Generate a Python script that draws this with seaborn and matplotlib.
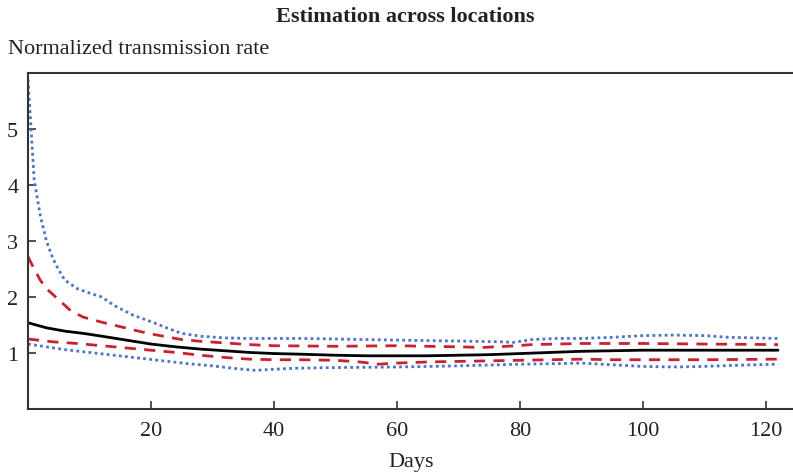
import matplotlib
matplotlib.use("Agg")
import matplotlib.pyplot as plt
import seaborn as sns
import pandas as pd

# ---- data ----
blue_up_days = [0, 0.5, 1, 2, 3, 4, 5, 6, 8, 10, 12, 14, 17, 20, 23, 25, 28, 32, 36, 40, 44, 50, 55, 60, 66,
                72, 77, 79, 82, 86, 90, 95, 100, 105, 110, 114, 118, 122]
blue_up_vals = [5.88, 5.0, 4.1, 3.45, 3.0, 2.7, 2.48, 2.3, 2.15, 2.07, 2.0, 1.85, 1.68, 1.56, 1.43, 1.35, 1.30,
                1.27, 1.26, 1.26, 1.26, 1.25, 1.24, 1.23, 1.22, 1.21, 1.2, 1.19, 1.24, 1.26, 1.26, 1.28, 1.31,
                1.32, 1.31, 1.28, 1.27, 1.26]

red_up_days = [0, 1, 2, 3, 5, 7, 9, 12, 15, 18, 20, 23, 25, 28, 32, 36, 40, 50, 60, 70, 74, 78, 82, 90, 100,
               110, 122]
red_up_vals = [2.72, 2.5, 2.3, 2.15, 1.95, 1.75, 1.64, 1.55, 1.47, 1.39, 1.34, 1.28, 1.24, 1.21, 1.18, 1.15,
               1.13, 1.12, 1.13, 1.11, 1.10, 1.12, 1.15, 1.17, 1.17, 1.16, 1.15]

mid_days = [0, 3, 6, 9, 12, 16, 20, 24, 28, 32, 36, 40, 44, 50, 55, 60, 65, 70, 75, 80, 85, 90, 95, 100, 110,
            122]
mid_vals = [1.54, 1.45, 1.39, 1.35, 1.30, 1.23, 1.16, 1.11, 1.07, 1.04, 1.01, 0.99, 0.98, 0.96, 0.95, 0.95,
            0.95, 0.96, 0.97, 0.99, 1.01, 1.03, 1.04, 1.05, 1.05, 1.05]

red_lo_days = [0, 4, 8, 12, 16, 20, 24, 28, 32, 36, 40, 44, 50, 54, 57, 60, 65, 70, 75, 80, 85, 90, 95, 100,
               110, 122]
red_lo_vals = [1.25, 1.2, 1.17, 1.13, 1.09, 1.05, 1.01, 0.96, 0.92, 0.89, 0.88, 0.88, 0.87, 0.84, 0.80, 0.82,
               0.84, 0.85, 0.86, 0.87, 0.88, 0.89, 0.88, 0.88, 0.88, 0.89]

blue_lo_days = [0, 3, 6, 10, 14, 18, 22, 26, 30, 34, 37, 40, 44, 50, 60, 70, 80, 86, 90, 95, 100, 105, 110,
                115, 122]
blue_lo_vals = [1.16, 1.11, 1.06, 1.01, 0.96, 0.91, 0.86, 0.81, 0.77, 0.72, 0.69, 0.71, 0.73, 0.74, 0.75, 0.77,
                0.80, 0.81, 0.82, 0.79, 0.76, 0.75, 0.76, 0.78, 0.80]

x_ticks = [20, 40, 60, 80, 100, 120]
y_ticks = [1, 2, 3, 4, 5]

title = "Estimation across locations"
y_label = "Normalized transmission rate"
x_label = "Days"

# ---- styling ----
sns.set_theme(style="white")
plt.rcParams["font.family"] = ["Liberation Serif", "DejaVu Serif"]

fig = plt.figure(figsize=(7.93, 4.77), dpi=100)
ax = fig.add_axes([28 / 793, 67 / 477, 1 - 28 / 793 + 0.0005, (410 - 74) / 477])

BLUE = "#4a74c4"
RED = "#c82230"

series = [
    (blue_up_days, blue_up_vals, BLUE, (0, (1, 1.2))),
    (blue_lo_days, blue_lo_vals, BLUE, (0, (1, 1.2))),
    (red_up_days, red_up_vals, RED, (0, (4, 3))),
    (red_lo_days, red_lo_vals, RED, (0, (4, 3))),
    (mid_days, mid_vals, "black", "-"),
]
for d, v, c, ls in series:
    df = pd.DataFrame({"day": d, "val": v})
    sns.lineplot(data=df, x="day", y="val", ax=ax, color=c, linestyle=ls, linewidth=2.0)

ax.set_xlim(0, 124.5)
ax.set_ylim(0, 6)
ax.set_xticks(x_ticks)
ax.set_yticks(y_ticks)
ax.set_xticklabels([str(t) for t in x_ticks])
ax.set_yticklabels([str(t) for t in y_ticks])
ax.tick_params(axis="both", direction="in", length=6, width=1.2, color="#333333",
               labelsize=16, labelcolor="#222222")
ax.tick_params(axis="x", bottom=True, pad=9)
ax.tick_params(axis="y", left=True, pad=7)

for s in ["left", "bottom", "top"]:
    ax.spines[s].set_visible(True)
    ax.spines[s].set_color("#333333")
    ax.spines[s].set_linewidth(1.5)
ax.spines["right"].set_visible(False)

ax.set_xlabel(x_label, fontsize=16, color="#222222", labelpad=8)
ax.set_ylabel("")
fig.text(8 / 793, 1 - 50 / 477, y_label, fontsize=16, color="#222222", ha="left", va="center")
fig.text(405 / 793, 1 - 17 / 477, title, fontsize=16, fontweight="bold", color="#222222",
         ha="center", va="center")

fig.savefig("out.png", dpi=100)
